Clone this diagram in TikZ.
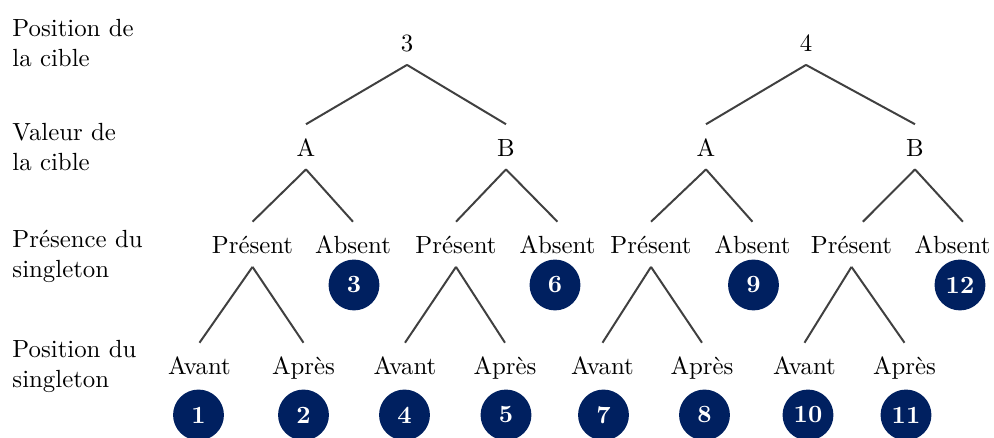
\documentclass[tikz,border=0pt]{standalone}
\usepackage{fontspec}
\definecolor{navy}{HTML}{002060}
\definecolor{edgegray}{HTML}{404040}
\begin{document}
\begin{tikzpicture}[x=0.403pt,y=-0.403pt,
  tn/.style={anchor=base, inner sep=5pt, text height=7.8pt, text depth=0pt},
  leaf/.style={circle, fill=navy, text=white, font=\bfseries, minimum size=20.5pt, inner sep=0pt},
  lvl/.style={anchor=north west, inner sep=0pt, align=left},
  br/.style={draw=edgegray, line width=0.8pt}]
\useasboundingbox (0,0) rectangle (994,438);

% level labels
\node[lvl] (L1) at (12,18.8) {Position de\\la cible};
\node[lvl] (L2) at (12,122.8) {Valeur de\\la cible};
\node[lvl] (L3) at (12,229.8) {Présence du\\singleton};
\node[lvl] (L4) at (12,339.8) {Position du\\singleton};

% level 0
\node[tn] (r3) at (407,52) {3};
\node[tn] (r4) at (806,52) {4};
% level 1
\node[tn] (a1) at (306,156.5) {A};
\node[tn] (b1) at (506,156.5) {B};
\node[tn] (a2) at (706,156.5) {A};
\node[tn] (b2) at (915,156.5) {B};
% level 2
\node[tn] (p1) at (252.5,254) {Présent};
\node[tn] (n1) at (353,254) {Absent};
\node[tn] (p2) at (456,254) {Présent};
\node[tn] (n2) at (557.5,254) {Absent};
\node[tn] (p3) at (651,254) {Présent};
\node[tn] (n3) at (752.5,254) {Absent};
\node[tn] (p4) at (851.5,254) {Présent};
\node[tn] (n4) at (952.5,254) {Absent};
% level 3
\node[tn] (v1) at (199.5,375) {Avant};
\node[tn] (s1) at (303.5,375) {Après};
\node[tn] (v2) at (405,375) {Avant};
\node[tn] (s2) at (505,375) {Après};
\node[tn] (v3) at (602.5,375) {Avant};
\node[tn] (s3) at (702,375) {Après};
\node[tn] (v4) at (804.5,375) {Avant};
\node[tn] (s4) at (904.5,375) {Après};

% outcome circles
\node[leaf] (c3) at (354,285) {3};
\node[leaf] (c6) at (555,285) {6};
\node[leaf] (c9) at (753.5,285) {9};
\node[leaf] (c12) at (960,285) {12};
\node[leaf] (c1) at (198.5,415) {1};
\node[leaf] (c2) at (303.5,415) {2};
\node[leaf] (c4) at (404.5,415) {4};
\node[leaf] (c5) at (506,415) {5};
\node[leaf] (c7) at (603.5,415) {7};
\node[leaf] (c8) at (704.5,415) {8};
\node[leaf] (c10) at (808,415) {10};
\node[leaf] (c11) at (906,415) {11};

% branches
\draw[br] (r3.south) -- (a1.north);
\draw[br] (r3.south) -- (b1.north);
\draw[br] (r4.south) -- (a2.north);
\draw[br] (r4.south) -- (b2.north);
\draw[br] (a1.south) -- (p1.north);
\draw[br] (a1.south) -- (n1.north);
\draw[br] (b1.south) -- (p2.north);
\draw[br] (b1.south) -- (n2.north);
\draw[br] (a2.south) -- (p3.north);
\draw[br] (a2.south) -- (n3.north);
\draw[br] (b2.south) -- ([xshift=4.6pt]p4.north);
\draw[br] (b2.south) -- ([xshift=4.2pt]n4.north);
\draw[br] (p1.south) -- (v1.north);
\draw[br] (p1.south) -- (s1.north);
\draw[br] (p2.south) -- (v2.north);
\draw[br] (p2.south) -- (s2.north);
\draw[br] (p3.south) -- (v3.north);
\draw[br] (p3.south) -- (s3.north);
\draw[br] (p4.south) -- (v4.north);
\draw[br] (p4.south) -- (s4.north);
\end{tikzpicture}
\end{document}
